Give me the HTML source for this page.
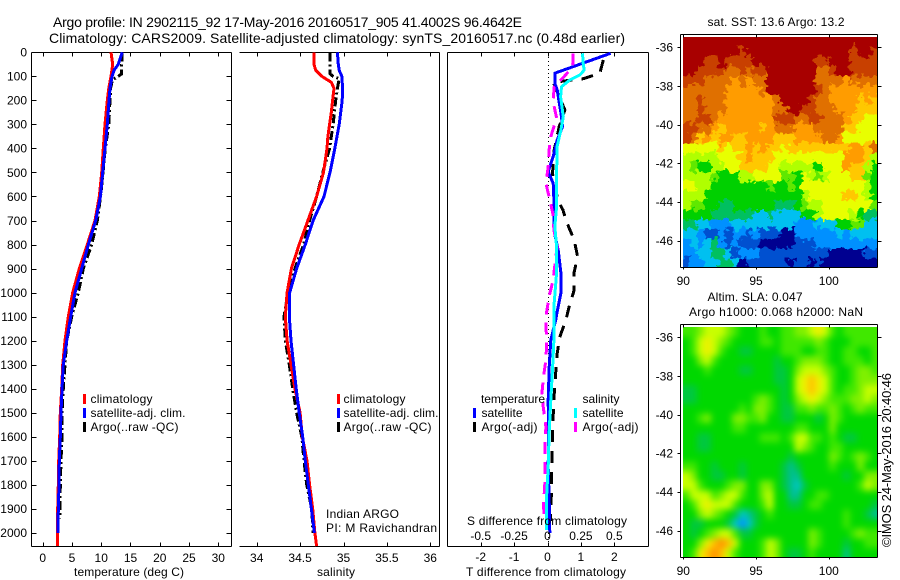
<!DOCTYPE html>
<html lang="en">
<head>
<meta charset="utf-8">
<title>Argo profile 2902115_92</title>
<style>
html,body{margin:0;padding:0;background:#fff;}
svg{display:block;}
text{font-family:"Liberation Sans",sans-serif;font-size:12px;fill:#000;}
</style>
</head>
<body>
<svg id="chart" xmlns="http://www.w3.org/2000/svg" width="900" height="580" viewBox="0 0 900 580">
<defs>
<filter id="sstTexture" filterUnits="userSpaceOnUse" x="660" y="20" width="240" height="265" color-interpolation-filters="sRGB">
<feTurbulence type="fractalNoise" baseFrequency="0.17 0.2" numOctaves="2" seed="7" result="noise"/>
<feDisplacementMap in="SourceGraphic" in2="noise" scale="13" xChannelSelector="R" yChannelSelector="G"/>
</filter>
<filter id="slaSmooth" filterUnits="userSpaceOnUse" x="660" y="300" width="240" height="280" color-interpolation-filters="sRGB">
<feGaussianBlur stdDeviation="3.5"/>
</filter>
<clipPath id="sstClip"><rect x="683" y="37" width="195" height="230"/></clipPath>
<clipPath id="slaClip"><rect x="683" y="327" width="195" height="230"/></clipPath>
</defs>
<g id="staticText">
<text x="53" y="27" style="font-size:14px" textLength="469" lengthAdjust="spacing">Argo profile: IN 2902115_92 17-May-2016 20160517_905 41.4002S 96.4642E</text>
<text x="49" y="43" style="font-size:14px" textLength="576" lengthAdjust="spacing">Climatology: CARS2009. Satellite-adjusted climatology: synTS_20160517.nc (0.48d earlier)</text>

<text x="74" y="576" textLength="110" lengthAdjust="spacing">temperature (deg C)</text>
<text x="317" y="576" textLength="38" lengthAdjust="spacing">salinity</text>
<text x="466" y="576" textLength="160" lengthAdjust="spacing">T difference from climatology</text>
<text x="467" y="525" textLength="160" lengthAdjust="spacing">S difference from climatology</text>

<g>
<rect x="83" y="394" width="3" height="10" fill="#f00"/>
<text x="90.5" y="403" textLength="62" lengthAdjust="spacing">climatology</text>
<rect x="83" y="408" width="3" height="10" fill="#00f"/>
<text x="90.5" y="417" textLength="95" lengthAdjust="spacing">satellite-adj. clim.</text>
<rect x="83" y="422" width="3" height="10" fill="#000"/>
<text x="90.5" y="431" textLength="88" lengthAdjust="spacing">Argo(..raw -QC)</text>
</g>
<g>
<rect x="337" y="394" width="3" height="10" fill="#f00"/>
<text x="343.5" y="403" textLength="62" lengthAdjust="spacing">climatology</text>
<rect x="337" y="408" width="3" height="10" fill="#00f"/>
<text x="343.5" y="417" textLength="95" lengthAdjust="spacing">satellite-adj. clim.</text>
<rect x="337" y="422" width="3" height="10" fill="#000"/>
<text x="343.5" y="431" textLength="88" lengthAdjust="spacing">Argo(..raw -QC)</text>
</g>
<text x="326" y="518" textLength="73" lengthAdjust="spacing">Indian ARGO</text>
<text x="326" y="532" textLength="111" lengthAdjust="spacing">PI: M Ravichandran</text>

<g>
<text x="481" y="403" textLength="64" lengthAdjust="spacing">temperature</text>
<rect x="473" y="408" width="3" height="10" fill="#00f"/>
<text x="481.5" y="417" textLength="41" lengthAdjust="spacing">satellite</text>
<rect x="473" y="422" width="3" height="10" fill="#000"/>
<text x="481.5" y="431" textLength="56" lengthAdjust="spacing">Argo(-adj)</text>
<text x="582.5" y="403" textLength="37" lengthAdjust="spacing">salinity</text>
<rect x="574" y="408" width="3" height="10" fill="#0ff"/>
<text x="582.5" y="417" textLength="41" lengthAdjust="spacing">satellite</text>
<rect x="574" y="422" width="3" height="10" fill="#f0f"/>
<text x="582.5" y="431" textLength="56" lengthAdjust="spacing">Argo(-adj)</text>
</g>

<text x="707.5" y="26" textLength="137" lengthAdjust="spacing">sat. SST: 13.6 Argo: 13.2</text>
<text x="707.5" y="301" textLength="95" lengthAdjust="spacing">Altim. SLA: 0.047</text>
<text x="689" y="316" textLength="174" lengthAdjust="spacing">Argo h1000: 0.068 h2000: NaN</text>
<text transform="translate(891 547) rotate(-90)" style="font-size:13px" textLength="174" lengthAdjust="spacing">©IMOS 24-May-2016 20:40:46</text>
</g>
</svg>
<script>
// ---------- profile data ----------
const depthTicks = [0,100,200,300,400,500,600,700,800,900,1000,1100,1200,1300,1400,1500,1600,1700,1800,1900,2000];
const tempTicks = [0,5,10,15,20,25,30];
const salTicks = [34,34.5,35,35.5,36];
const tdiffTicks = [-2,-1,0,1,2];
const sdiffTicks = [-0.5,-0.25,0,0.25,0.5];
const sdiffTickLabels = ['-0.5','-0.25','0','0.25','0.5'];

const stdDepths = [0,50,100,150,200,300,400,500,600,700,800,900,1000,1100,1200,1300,1400,1500,1600,1700,1800,1900,2000,2055];
const tempClim = [11.67,11.96,11.67,11.3,11.04,10.64,10.36,10.08,9.67,8.93,7.62,6.25,5.12,4.38,3.81,3.41,3.24,3.0,2.9,2.73,2.67,2.56,2.56,2.56];
const blueDepths = [0,50,75,100,150,200,300,400,500,600,700,800,900,1000,1100,1200,1300,1400,1500,1600,1700,1800,1900,2000];
const tempSat = [13.6,12.92,12.18,11.84,11.5,11.33,11.04,10.64,10.25,9.85,9.05,7.8,6.66,5.52,4.78,4.1,3.52,3.3,3.13,3.0,2.84,2.79,2.67,2.61];
const argoTDepths = [0,50,90,105,115,150,300,400,500,600,700,800,900,1000,1100,1200,1300,1400,1500,1600,1700,1800,1900,1940];
const tempArgo = [13.6,13.5,13.5,12.6,11.9,11.6,11.3,10.7,10.3,9.9,9.33,8.37,6.94,6.08,4.95,4.1,3.81,3.52,3.3,3.3,3.13,3.0,2.96,2.9];

const salClimDepths = [0,25,50,75,100,125,150,200,250,300,350,400,500,600,700,800,900,1000,1100,1200,1300,1400,1500,1600,1700,1800,1900,2000,2055];
const salClim = [34.66,34.66,34.66,34.68,34.75,34.86,34.89,34.875,34.86,34.84,34.82,34.81,34.77,34.69,34.59,34.49,34.40,34.35,34.33,34.35,34.395,34.44,34.5,34.525,34.58,34.61,34.645,34.67,34.69];
const salSat = [34.93,34.94,34.95,34.98,34.99,34.985,34.95,34.90,34.845,34.775,34.65,34.56,34.46,34.38,34.375,34.395,34.425,34.455,34.49,34.53,34.56,34.595,34.63,34.665];
const salSatDepths = [0,50,75,100,150,200,300,400,500,600,700,800,900,1000,1100,1200,1300,1400,1500,1600,1700,1800,1900,2000];
const salArgoDepths = [0,50,90,100,110,150,200,300,400,500,600,700,800,900,1000,1100,1200,1300,1400,1500,1600,1700,1800,1900,2000];
const salArgo = [34.845,34.845,34.845,34.88,34.95,34.93,34.91,34.88,34.84,34.76,34.69,34.61,34.54,34.44,34.36,34.315,34.33,34.375,34.415,34.46,34.52,34.545,34.576,34.634,34.65];

const dTSatDepths = [4,87,129,157,268,309,365,434,497,545,642,739,823,918,1002,1072,1114,1197,1310,1447,1586,1725,1863,2000];
const dTSat = [1.89,0.22,0.22,0.29,0.42,0.45,0.29,0.17,0.02,0.17,0.2,0.19,0.32,0.4,0.4,0.3,0.245,0.1,0.05,0.02,0.03,0.02,0.05,0.07];
const dTArgoDepths = [32,87,110,125,240,309,406,504,615,656,712,781,850,920,989,1058,1114,1183,1253,1322,1447,1586,1725,1863,1950];
const dTArgo = [1.67,1.57,1.07,0.17,0.52,0.35,0.2,0.15,0.31,0.46,0.59,0.8,0.9,0.79,0.8,0.65,0.55,0.37,0.29,0.25,0.19,0.15,0.13,0.11,0.09];
const dSSatDepths = [4,50,74,94,115,143,185,268,323,392,504,642,725,809,918,1058,1114,1197,1310,1447,1586,1725,1863,1987];
const dSSat = [0.262,0.268,0.275,0.243,0.168,0.105,0.098,0.118,0.1,0.072,0.068,0.068,0.055,0.068,0.068,0.048,0.05,0.048,0.038,0.025,0.012,0.005,-0.008,-0.008];
const dSArgoDepths = [4,45,74,105,143,205,273,351,406,476,545,615,677,739,809,947,1017,1087,1142,1197,1280,1350,1420,1475,1558,1655,1795,1891,1950];
const dSArgo = [0.192,0.192,0.168,0.118,0.05,0.042,0.068,0.025,0.012,0.005,-0.012,0.018,0.042,0.048,0.072,0.042,0.012,-0.008,-0.012,-0.005,-0.012,-0.03,-0.042,-0.032,-0.012,-0.02,-0.02,-0.03,-0.02];

// ---------- map data ----------
const sstLevelColors = ['#000090','#0050d0','#0090ff','#00c0f0','#00c060','#00d000','#60e800','#b0ff00','#e8ff00','#ffc800','#ff9c00','#e07000','#c84000','#a80000'];
const slaLevelColors = ['#0090ff','#00c8c8','#00c090','#00c840','#00d800','#40e800','#80f000','#c8ff00','#f0f000','#ffc000','#ff9000'];
const lonTicks = [90,95,100];
const latTicks = [-36,-38,-40,-42,-44,-46];
const sstGrid = [
[13,13,13,13,13,13,13,13,13,13,13,13,13,13,13,13,13,13,13,13,13,13,13,13,13,13,13,13],
[13,13,13,13,13,13,13,13,12,13,13,13,13,13,13,13,13,13,13,13,13,13,13,13,12,13,13,12],
[13,13,13,12,12,13,12,12,12,12,13,13,13,13,13,13,13,13,13,12,12,13,13,13,12,12,12,12],
[13,13,12,12,12,12,11,11,12,11,12,12,13,13,13,13,13,13,13,11,11,12,13,13,12,12,12,12],
[12,12,12,11,11,11,11,10,11,10,11,11,13,13,13,13,13,13,13,11,11,11,11,10,11,11,11,11],
[11,11,11,11,11,11,10,10,10,10,10,11,13,13,13,13,13,13,13,12,11,10,10,10,10,10,10,10],
[11,11,12,11,11,11,10,10,10,10,10,10,10,11,13,13,13,13,12,11,11,10,10,10,10,9,10,9],
[11,11,12,11,11,11,10,10,10,10,10,10,10,11,11,13,13,12,12,11,11,11,10,10,10,9,9,9],
[11,11,12,12,11,10,10,10,10,10,10,10,10,12,12,12,11,11,12,12,11,11,11,10,9,9,8,8],
[12,12,11,11,10,9,10,10,10,10,10,9,10,11,11,11,10,10,10,11,11,11,11,9,9,8,8,8],
[12,11,9,10,9,10,10,9,9,10,10,10,10,9,9,9,10,10,10,10,11,11,10,8,8,8,8,8],
[8,8,8,8,8,9,8,9,9,10,9,10,9,9,8,9,9,9,9,9,9,9,9,9,10,10,9,11],
[7,7,7,7,7,8,8,8,9,10,9,9,9,8,8,8,8,8,8,8,8,8,8,10,10,10,9,7],
[7,6,5,5,7,7,8,8,9,9,9,9,8,8,7,7,7,7,7,5,8,8,8,10,9,9,7,5],
[7,7,7,7,6,5,5,5,7,7,8,8,8,8,6,6,5,8,7,6,7,8,8,8,9,9,6,5],
[8,8,7,7,5,5,5,5,5,5,5,5,6,5,5,6,5,8,8,8,8,8,8,8,8,8,7,5],
[7,7,7,5,5,5,5,5,5,5,5,5,5,5,5,5,5,7,8,8,8,8,8,9,9,8,7,5],
[7,6,6,5,5,4,4,5,5,5,5,5,5,4,4,4,5,6,7,7,8,8,8,8,8,8,8,6],
[5,5,5,5,4,4,4,4,4,4,3,3,4,3,3,3,3,5,5,7,8,8,8,8,7,5,4,4],
[4,4,3,3,2,2,2,3,3,3,3,3,3,3,3,3,2,2,2,3,3,3,5,5,6,6,3,3],
[3,3,2,1,1,2,1,2,2,1,2,1,1,1,0,0,2,2,2,2,2,2,3,2,3,3,3,3],
[2,3,2,3,4,2,1,2,1,1,1,0,0,0,0,0,1,1,1,2,2,2,2,2,2,2,2,2],
[2,2,3,3,4,4,3,1,2,2,2,1,1,1,1,1,1,1,1,1,1,0,0,0,0,0,1,1],
[1,2,2,3,3,4,4,3,0,1,1,1,1,1,1,0,1,1,0,1,0,0,0,0,0,0,0,0]
];
const slaGrid = [
[5,5,6,7,7,7,6,5,4,4,4,5,4,4,5,5,6,6,7,8,7,5,4,5,5,5,5,5],
[4,5,7,8,7,6,5,4,4,4,4,5,5,4,5,5,5,5,5,6,5,4,4,4,5,5,5,5],
[4,5,7,8,7,5,4,4,3,3,4,4,4,4,5,5,5,4,4,5,5,4,4,5,5,4,4,5],
[4,4,6,7,5,4,4,4,4,4,4,4,4,3,4,4,5,6,6,6,5,4,4,5,5,5,4,5],
[4,4,4,5,4,4,4,4,3,3,4,4,4,3,3,4,6,7,7,7,6,5,4,4,5,6,6,5],
[4,4,4,4,4,4,4,4,4,4,4,4,4,3,3,4,7,8,9,8,7,5,4,4,5,6,6,6],
[3,3,4,4,4,4,4,4,4,4,4,4,4,4,3,4,7,8,9,8,7,5,4,5,5,6,7,7],
[3,3,4,4,4,4,4,4,4,4,5,6,5,4,3,4,6,7,8,7,6,5,5,5,6,6,7,6],
[4,4,4,4,4,4,4,4,5,4,6,6,5,4,3,3,5,5,6,5,5,6,5,4,5,6,5,5],
[4,4,5,6,4,4,4,6,6,5,5,6,4,4,3,3,4,4,4,3,4,6,5,4,4,4,4,4],
[4,4,4,4,4,4,4,5,5,4,4,4,4,4,4,4,5,5,4,4,4,6,4,4,4,4,4,4],
[4,4,3,3,4,4,4,4,4,4,4,5,5,5,4,5,7,7,5,5,4,5,4,3,3,4,4,4],
[4,4,3,3,4,4,4,4,4,4,4,4,4,4,4,4,7,6,5,4,4,5,5,4,4,4,4,4],
[4,4,4,4,4,4,4,4,4,4,4,4,4,4,4,3,4,4,4,4,4,6,5,4,5,6,5,4],
[5,5,4,4,3,4,4,4,3,4,4,4,4,4,3,2,3,4,4,4,4,5,4,4,4,6,4,4],
[7,6,4,4,3,3,4,4,3,4,4,4,4,4,3,2,2,4,4,4,4,4,4,3,4,4,6,6],
[7,7,5,4,4,4,5,6,6,4,4,6,6,4,3,2,1,3,4,4,4,4,4,4,4,5,7,6],
[5,7,7,7,5,6,7,7,5,4,4,6,7,4,4,2,2,4,4,5,5,4,4,4,4,4,4,4],
[4,5,7,8,7,7,7,5,4,4,4,5,7,4,4,3,3,4,5,5,4,4,4,4,4,4,4,3],
[4,4,6,7,6,5,4,3,1,2,3,4,5,4,4,4,4,4,4,4,4,4,4,5,4,4,3,2],
[4,3,3,4,4,4,3,1,0,1,3,4,4,4,4,4,4,4,4,4,4,4,4,5,4,4,4,4],
[4,3,4,5,6,7,7,5,3,3,4,4,4,4,4,4,4,4,6,5,4,4,4,4,5,6,5,5],
[4,4,6,8,9,10,9,7,4,4,4,5,7,6,4,4,4,4,6,5,4,4,4,3,4,4,5,5],
[4,5,8,9,10,9,7,5,4,4,4,5,7,6,4,3,3,4,5,4,4,4,4,2,4,4,4,4]
];

// ---------- scales ----------
const yDepth = d => 52.3 + d * 0.2403;
const xTemp = t => 42.7 + t * 5.853;
const xSal = s => 256.7 + (s - 34) * 86.8;
const xTDiff = t => 547.5 + t * 33.4;
const xSDiff = s => 547.5 + s * 133.6;
const xLon = lon => 683.3 + (lon - 90) * 14.55;
const ySstLat = lat => 47.3 + (-36 - lat) * 19.33;
const ySlaLat = lat => 337.3 + (-36 - lat) * 19.33;

const svg = document.getElementById('chart');
const NS = 'http://www.w3.org/2000/svg';
function make(tag, attrs, parent) {
  const node = document.createElementNS(NS, tag);
  for (const k in attrs) node.setAttribute(k, attrs[k]);
  (parent || svg).appendChild(node);
  return node;
}
function line(x1, y1, x2, y2, parent) {
  return make('line', {x1: Math.round(x1) + .5, y1: Math.round(y1) + .5, x2: Math.round(x2) + .5, y2: Math.round(y2) + .5, stroke: '#000', 'stroke-width': 1, 'shape-rendering': 'crispEdges'}, parent);
}
function label(x, y, anchor, str, parent) {
  const t = make('text', {x: x, y: y, 'text-anchor': anchor}, parent);
  t.textContent = str;
  
  
  return t;
}
function series(xs, depths, xf, color, width, dash, name) {
  const pts = xs.map((v, i) => xf(v).toFixed(1) + ',' + yDepth(depths[i]).toFixed(1)).join(' ');
  const p = make('polyline', {points: pts, fill: 'none', stroke: color, 'stroke-width': width, 'shape-rendering': 'crispEdges', 'stroke-linejoin': 'round'});
  if (dash) p.setAttribute('stroke-dasharray', dash);
  
  
}

// ---------- panel frames and ticks ----------
const L1 = 31, R1 = 231, L2 = 239, R2 = 439, L3 = 447, R3 = 648, T = 52, B = 546;
const frame1 = make('g', {});


line(L1, T, R1, T, frame1); line(L1, B, R1, B, frame1); line(L1, T, L1, B, frame1); line(R1, T, R1, B, frame1);
depthTicks.forEach(d => {
  const y = yDepth(d);
  line(L1, y, L1 + 5, y, frame1);
  line(R1 - 5, y, R1, y, frame1);
  label(27, y + 4.3, 'end', String(d), frame1);
});
tempTicks.forEach(t => {
  const x = xTemp(t);
  line(x, T, x, T + 4, frame1);
  line(x, B - 4, x, B, frame1);
  label(x, 562, 'middle', String(t), frame1);
});
const frame2 = make('g', {});


line(L2, T, R2, T, frame2); line(L2, B, R2, B, frame2); line(R2, T, R2, B, frame2);
salTicks.forEach(s => {
  const x = xSal(s);
  line(x, T, x, T + 4, frame2);
  line(x, B - 4, x, B, frame2);
  label(x, 562, 'middle', String(s), frame2);
});
const frame3 = make('g', {});


line(L3, T, R3, T, frame3); line(L3, B, R3, B, frame3); line(L3, T, L3, B, frame3); line(R3, T, R3, B, frame3);
tdiffTicks.forEach(t => {
  const x = xTDiff(t);
  line(x, T, x, T + 4, frame3);
  line(x, B - 4, x, B, frame3);
  label(x, 561, 'middle', String(t), frame3);
});
const zero = make('line', {x1: 548.5, y1: 53, x2: 548.5, y2: 546, stroke: '#000', 'stroke-width': 1, 'stroke-dasharray': '1 3', 'shape-rendering': 'crispEdges'});



// ---------- profile lines ----------
series(tempArgo, argoTDepths, xTemp, '#000', 3, '9 3 2 3', 'temperature-argo-line');
series(tempClim, stdDepths, xTemp, '#f00', 3, null, 'temperature-climatology-line');
series(tempSat, blueDepths, xTemp, '#00f', 3, null, 'temperature-satellite-line');
series(salArgo, salArgoDepths, xSal, '#000', 3, '9 3 2 3', 'salinity-argo-line');
series(salClim, salClimDepths, xSal, '#f00', 3, null, 'salinity-climatology-line');
series(salSat, salSatDepths, xSal, '#00f', 3, null, 'salinity-satellite-line');
series(dTArgo, dTArgoDepths, xTDiff, '#000', 3, '12 9', 't-difference-argo-line');
series(dTSat, dTSatDepths, xTDiff, '#00f', 3, null, 't-difference-satellite-line');
series(dSArgo, dSArgoDepths, xSDiff, '#f0f', 3, '12 8', 's-difference-argo-line');
series(dSSat, dSSatDepths, xSDiff, '#0ff', 3, null, 's-difference-satellite-line');

// text sits above the profile lines
const staticText = document.getElementById('staticText');
svg.appendChild(staticText);
const sTickGroup = make('g', {});


sdiffTicks.forEach((s, i) => {
  label(xSDiff(s), 540, 'middle', sdiffTickLabels[i], sTickGroup);
});

// ---------- maps ----------
function drawMap(grid, colors, yLat, latTop, latBottom, frameTop, frameBottom, lonLabelY, mapName, filterId, clipId) {
  const g = make('g', {});
  
  
  const clip = make('g', {'clip-path': 'url(#' + clipId + ')'}, g);
  const cells = make('g', {filter: 'url(#' + filterId + ')'}, clip);
  const nRows = grid.length, nCols = grid[0].length;
  const lonStart = 90, lonEnd = 103.36;
  const dLon = (lonEnd - lonStart) / nCols, dLat = (latTop - latBottom) / nRows;
  const bleed = 14;
  grid.forEach((row, r) => row.forEach((v, c) => {
    let x0 = xLon(lonStart + c * dLon), x1 = xLon(lonStart + (c + 1) * dLon);
    let y0 = yLat(latTop - r * dLat), y1 = yLat(latTop - (r + 1) * dLat);
    if (c === 0) x0 -= bleed;
    if (c === nCols - 1) x1 += bleed;
    if (r === 0) y0 -= bleed;
    if (r === nRows - 1) y1 += bleed;
    const cell = make('rect', {x: x0.toFixed(2), y: y0.toFixed(2), width: (x1 - x0 + .4).toFixed(2), height: (y1 - y0 + .4).toFixed(2), fill: colors[v], 'shape-rendering': 'crispEdges'}, cells);
    
    
  }));
  const l = 680, rr = 877;
  line(l, frameTop, rr, frameTop, g); line(l, frameBottom, rr, frameBottom, g);
  line(l, frameTop, l, frameBottom, g); line(rr, frameTop, rr, frameBottom, g);
  latTicks.forEach(lat => {
    const y = yLat(lat);
    line(677, y, 680, y, g);
    line(877, y, 881, y, g);
    label(673, y + 4.3, 'end', String(lat), g);
  });
  lonTicks.forEach(lon => {
    const x = xLon(lon);
    line(x, frameTop, x, frameTop + 3, g);
    line(x, frameBottom, x, frameBottom + 2, g);
    label(x, lonLabelY, 'middle', String(lon), g);
  });
}
drawMap(sstGrid, sstLevelColors, ySstLat, -35.48, -47.39, 34, 267, 285, 'sst-map', 'sstTexture', 'sstClip');
drawMap(slaGrid, slaLevelColors, ySlaLat, -35.48, -47.39, 324, 557, 575, 'sla-map', 'slaSmooth', 'slaClip');
</script>
</body>
</html>
